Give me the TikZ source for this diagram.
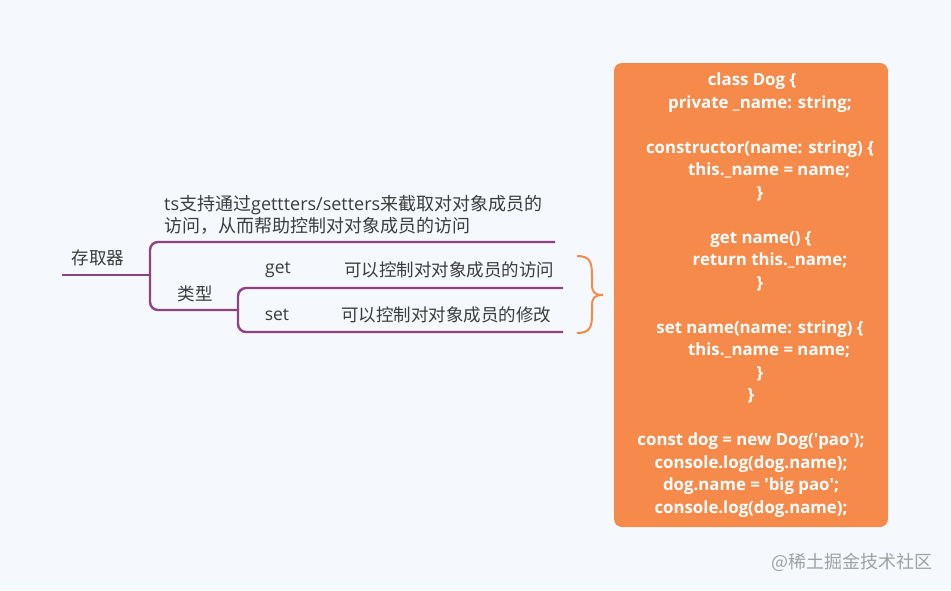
\documentclass[tikz,border=0pt]{standalone}
\usepackage{fontspec}
\setmainfont{Open Sans}
\newfontfamily\cjk{Noto Sans CJK SC}
\usepackage{xcolor}
\usetikzlibrary{positioning}

\definecolor{bgcol}{RGB}{245,249,253}
\definecolor{branchcol}{RGB}{143,66,128}
\definecolor{codecol}{RGB}{246,138,75}
\definecolor{textcol}{RGB}{60,60,60}
\definecolor{markcol}{RGB}{160,160,160}

\begin{document}
\begin{tikzpicture}[
		x=1pt, y=-1pt,
		every node/.style = {font=\fontsize{17.5}{22}\selectfont, text=textcol, inner sep=0pt},
		topic/.style = {anchor=center},
		branch/.style = {draw=branchcol, line width=2.4pt, rounded corners=8pt},
		brace/.style = {draw=codecol, line width=2pt},
		codebox/.style = {fill=codecol, rounded corners=8pt, minimum width=274pt, minimum height=464pt,
			align=center, text=white, font=\fontsize{16.8}{22.5}\selectfont\bfseries}
		]
		
		% background -----------------------------------------------------
		\fill[bgcol] (0,0) rectangle (951,590);
		\useasboundingbox (0,0) rectangle (951,590);
		
		% Root and first fork --------------------------------------------
		\node[topic] (root) at (98,258) {\cjk 存取器};
		\coordinate (rootL) at (62,275);
		\coordinate (fork1) at (150,275);
		\coordinate (descEnd) at (555,242);
		\coordinate (typeEnd) at (238,310);
		\node[anchor=south west, align=left, font=\fontsize{18}{22}\selectfont] (desc) at (164,235)
		{ts{\cjk 支持通过}gettters/setters{\cjk 来截取对对象成员的}\\{\cjk 访问，从而帮助控制对对象成员的访问}};
		\node[topic] (type) at (195,294) {\cjk 类型};
		
		% Second fork ----------------------------------------------------
		\coordinate (getEnd) at (563,288);
		\coordinate (setEnd) at (563,332);
		\node[topic] (get) at (278,270) {get};
		\node[topic] (set) at (277,315) {set};
		\node[anchor=west] (getTxt) at (344,270) {\cjk 可以控制对对象成员的访问};
		\node[anchor=west] (setTxt) at (341,315) {\cjk 可以控制对对象成员的修改};
		
		% Lines ----------------------------------------------------------
		\draw[branch] (rootL) -- (fork1);
		\draw[branch] (fork1) |- (descEnd);
		\draw[branch] (fork1) |- (typeEnd);
		\draw[branch] (typeEnd) |- (getEnd);
		\draw[branch] (typeEnd) |- (setEnd);
		
		% Brace ----------------------------------------------------------
		\coordinate (braceTop) at (577,256);
		\coordinate (braceBot) at (577,333);
		\coordinate (braceTip) at (603,295);
		\draw[brace] (braceTop) .. controls (590,256) and (592,262) .. (592,276) -- (592,284)
			.. controls (592,292) and (594,295) .. (braceTip);
		\draw[brace] (braceBot) .. controls (590,333) and (592,327) .. (592,314) -- (592,306)
			.. controls (592,298) and (594,295) .. (braceTip);
		
		% Code box -------------------------------------------------------
		\node[codebox] (code) at (751,295)
		{\hspace*{2pt}class Dog \{\\
			\hspace*{18pt}private \_name: string;\\
			\mbox{}\\
			\hspace*{18pt}constructor(name: string) \{\\
			\hspace*{36pt}this.\_name = name;\\
			\hspace*{18pt}\}\\
			\mbox{}\\
			\hspace*{20pt}get name() \{\\
			\hspace*{38pt}return this.\_name;\\
			\hspace*{18pt}\}\\
			\mbox{}\\
			\hspace*{18pt}set name(name: string) \{\\
			\hspace*{36pt}this.\_name = name;\\
			\hspace*{18pt}\}\\
			\}\\
			\mbox{}\\
			const dog = new Dog(\textquotesingle pao\textquotesingle);\\
			console.log(dog.name);\\
			dog.name = \textquotesingle big pao\textquotesingle;\\
			console.log(dog.name);};
		
		% Watermark ------------------------------------------------------
		\node[text=markcol, font=\fontsize{18}{20}\selectfont] (mark) at (852,562) {\cjk @稀土掘金技术社区};
	\end{tikzpicture}
\end{document}
